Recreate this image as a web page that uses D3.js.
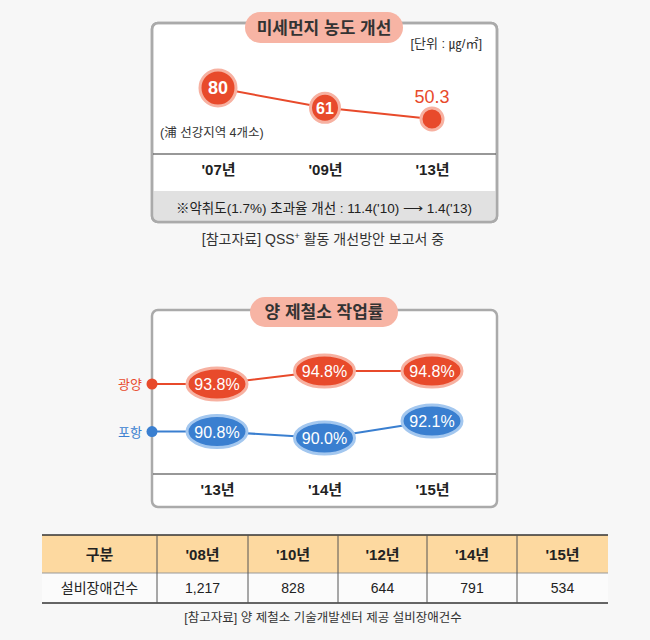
<!DOCTYPE html>
<html><head><meta charset="utf-8">
<script src="https://cdn.jsdelivr.net/npm/d3@7"></script>
<style>
html,body{margin:0;padding:0;background:#f7f7f7;}
svg{display:block;font-family:"Liberation Sans","Noto Sans CJK KR",sans-serif;}
</style></head><body>
<svg id="c" width="650" height="640"></svg>
<script>
// ---- data ----
const dustYears = ["'07년", "'09년", "'13년"];
const dustValues = [80, 61, 50.3];
const rateYears = ["'13년", "'14년", "'15년"];
const gwangyang = [93.8, 94.8, 94.8];
const pohang = [90.8, 90.0, 92.1];
const tableHeader = ["구분", "'08년", "'10년", "'12년", "'14년", "'15년"];
const tableRowLabel = "설비장애건수";
const failureCounts = [1217, 828, 644, 791, 534];

const FONT = "'Liberation Sans','Noto Sans CJK KR',sans-serif";
const RED = "#e84a2b", RED_RING = "#f7b1a1", BLUE = "#3a7fd0", BLUE_RING = "#a3c7ef";
const svg = d3.select("#c");

function box(x, y, w, h) {
  svg.append("rect").attr("x", x).attr("y", y).attr("width", w).attr("height", h)
    .attr("rx", 6).attr("fill", "#fff").attr("stroke", "#aaa").attr("stroke-width", 2.5);
}
function pill(cx, cy, w, h, text) {
  svg.append("rect").attr("x", cx - w / 2).attr("y", cy - h / 2).attr("width", w).attr("height", h)
    .attr("rx", h / 2).attr("fill", "#f7b4a4");
  svg.append("text").attr("x", cx).attr("y", cy + 6).attr("text-anchor", "middle")
    .attr("font-size", 17).attr("font-weight", "bold").attr("fill", "#333").text(text);
}

// ===== Chart 1 =====
box(152, 23, 345, 199);
svg.append("path").attr("d", "M153.25,191 H495.75 V216 a5,5 0 0 1 -5,5 H158.25 a5,5 0 0 1 -5,-5 Z").attr("fill", "#e1e1e1");
svg.append("rect").attr("x", 152).attr("y", 23).attr("width", 345).attr("height", 199)
  .attr("rx", 6).attr("fill", "none").attr("stroke", "#aaa").attr("stroke-width", 2.5);
pill(324, 27.5, 158, 31, "미세먼지 농도 개선");
svg.append("text").attr("x", 482).attr("y", 48).attr("text-anchor", "end").attr("font-size", 13)
  .attr("fill", "#333").text("[단위 : ㎍/㎡]");

const x1 = d3.scalePoint().domain(dustYears).range([218, 432]);
const y1 = d3.scaleLinear().domain([50.3, 80]).range([119, 88]);
const ax1 = svg.append("g").attr("transform", "translate(0,154)")
  .call(d3.axisBottom(x1).tickSize(0).tickPadding(10));
ax1.select(".domain").remove();
svg.append("line").attr("x1", 153).attr("x2", 496).attr("y1", 154).attr("y2", 154).attr("stroke", "#333").attr("stroke-width", 1.2);
ax1.selectAll("text").attr("font-size", 15).attr("font-weight", "bold").attr("fill", "#222").attr("font-family", FONT);

svg.append("path").datum(dustValues)
  .attr("d", d3.line().x((d, i) => x1(dustYears[i])).y(d => y1(d)))
  .attr("fill", "none").attr("stroke", RED).attr("stroke-width", 2);
const dustR = [16, 12.5, 9];
dustValues.forEach((v, i) => {
  const cx = x1(dustYears[i]), cy = y1(v);
  svg.append("circle").attr("cx", cx).attr("cy", cy).attr("r", dustR[i] + 2)
    .attr("fill", RED).attr("stroke", RED_RING).attr("stroke-width", 3);
  if (i < 2) {
    svg.append("text").attr("x", cx).attr("y", cy + 6).attr("text-anchor", "middle")
      .attr("font-size", i === 0 ? 18 : 16).attr("font-weight", "bold").attr("fill", "#fff").text(v);
  } else {
    svg.append("text").attr("x", cx).attr("y", cy - 16).attr("text-anchor", "middle")
      .attr("font-size", 18).attr("fill", RED).text(v);
  }
});
svg.append("text").attr("x", 160).attr("y", 137).attr("font-size", 12.5).attr("fill", "#333").text("(浦 선강지역 4개소)");
svg.append("text").attr("x", 324).attr("y", 213).attr("text-anchor", "middle").attr("font-size", 13.5)
  .attr("fill", "#222").text("※악취도(1.7%) 초과율 개선 : 11.4('10) ⟶ 1.4('13)");
svg.append("text").attr("x", 323).attr("y", 244).attr("text-anchor", "middle").attr("font-size", 14)
  .attr("fill", "#333").html("[참고자료] QSS<tspan dy='-5' font-size='9'>+</tspan><tspan dy='5'> 활동 개선방안 보고서 중</tspan>");

// ===== Chart 2 =====
box(152, 310, 345, 197);
pill(324, 312, 148, 30, "양 제철소 작업률");
const x2 = d3.scalePoint().domain(rateYears).range([217, 432]);
const yG = d3.scaleLinear().domain([93.8, 94.8]).range([384, 371]);
const yP = d3.scaleLinear().domain([90.0, 92.1]).range([438, 421]);
const ax2 = svg.append("g").attr("transform", "translate(0,474)")
  .call(d3.axisBottom(x2).tickSize(0).tickPadding(10));
ax2.select(".domain").remove();
svg.append("line").attr("x1", 153).attr("x2", 496).attr("y1", 474).attr("y2", 474).attr("stroke", "#333").attr("stroke-width", 1.2);
ax2.selectAll("text").attr("font-size", 15).attr("font-weight", "bold").attr("fill", "#222").attr("font-family", FONT);

function series(vals, ys, color, ring, name) {
  const pts = [[152, ys(vals[0])]].concat(vals.map((v, i) => [x2(rateYears[i]), ys(v)]));
  svg.append("path").datum(pts).attr("d", d3.line()).attr("fill", "none").attr("stroke", color).attr("stroke-width", 2);
  svg.append("circle").attr("cx", 152).attr("cy", ys(vals[0])).attr("r", 5.5).attr("fill", color);
  svg.append("text").attr("x", 142).attr("y", ys(vals[0]) + 5).attr("text-anchor", "end")
    .attr("font-size", 13).attr("fill", color).text(name);
  vals.forEach((v, i) => {
    const cx = x2(rateYears[i]), cy = ys(v);
    svg.append("ellipse").attr("cx", cx).attr("cy", cy).attr("rx", 30).attr("ry", 16)
      .attr("fill", color).attr("stroke", ring).attr("stroke-width", 3);
    svg.append("text").attr("x", cx).attr("y", cy + 6).attr("text-anchor", "middle")
      .attr("font-size", 16).attr("fill", "#fff").text(v.toFixed(1) + "%");
  });
}
series(gwangyang, yG, RED, RED_RING, "광양");
series(pohang, yP, BLUE, BLUE_RING, "포항");

// ===== Table =====
const colEdges = [42, 157, 248, 338, 427, 517, 608];
const rowTop = 535, rowMid = 573, rowBot = 603;
svg.append("rect").attr("x", 42).attr("y", rowTop).attr("width", 566).attr("height", rowMid - rowTop).attr("fill", "#fdd9a0");
svg.append("rect").attr("x", 42).attr("y", rowMid).attr("width", 566).attr("height", rowBot - rowMid).attr("fill", "#fbfbfb");
svg.append("line").attr("x1", 42).attr("x2", 608).attr("y1", rowTop).attr("y2", rowTop).attr("stroke", "#333").attr("stroke-width", 1.5);
svg.append("line").attr("x1", 42).attr("x2", 608).attr("y1", rowMid).attr("y2", rowMid).attr("stroke", "#999").attr("stroke-width", 1);
svg.append("line").attr("x1", 42).attr("x2", 608).attr("y1", rowBot).attr("y2", rowBot).attr("stroke", "#333").attr("stroke-width", 1.5);
colEdges.slice(1, -1).forEach(x => {
  svg.append("line").attr("x1", x).attr("x2", x).attr("y1", rowTop).attr("y2", rowBot).attr("stroke", "#555").attr("stroke-width", 1);
});
tableHeader.forEach((h, i) => {
  svg.append("text").attr("x", (colEdges[i] + colEdges[i + 1]) / 2).attr("y", 560).attr("text-anchor", "middle")
    .attr("font-size", 15).attr("font-weight", "bold").attr("fill", "#222").text(h);
});
const rowVals = [tableRowLabel].concat(failureCounts.map(d3.format(",")));
rowVals.forEach((v, i) => {
  svg.append("text").attr("x", (colEdges[i] + colEdges[i + 1]) / 2).attr("y", 593).attr("text-anchor", "middle")
    .attr("font-size", 14).attr("fill", "#222").text(v);
});
svg.append("text").attr("x", 323).attr("y", 622).attr("text-anchor", "middle").attr("font-size", 12.5)
  .attr("fill", "#333").text("[참고자료] 양 제철소 기술개발센터 제공 설비장애건수");
</script></body></html>
